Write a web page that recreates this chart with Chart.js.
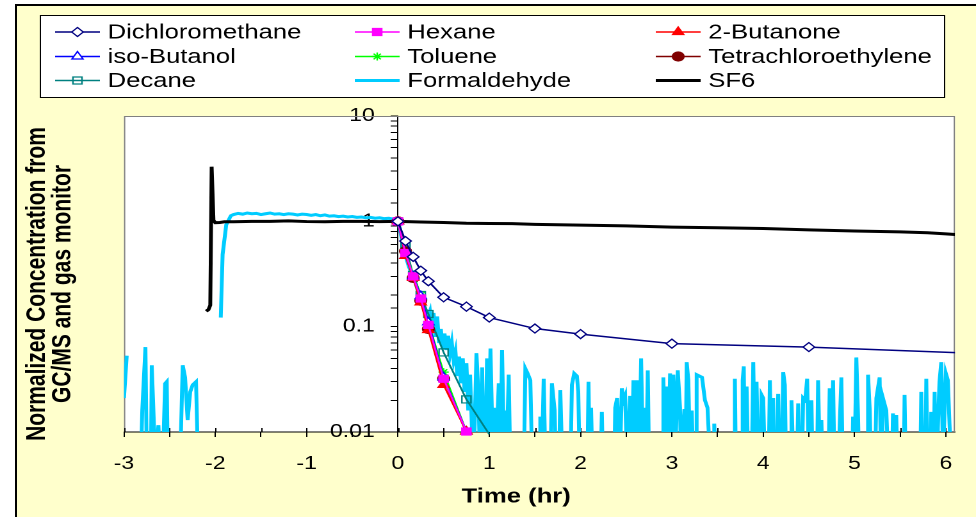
<!DOCTYPE html>
<html>
<head>
<meta charset="utf-8">
<script src="https://cdn.jsdelivr.net/npm/chart.js@4.4.1/dist/chart.umd.min.js"></script>
<style>
  html, body { margin: 0; padding: 0; background: #fff; overflow: hidden; }
  body { width: 976px; height: 517px; position: relative; }
  #frame { position: absolute; left: 15px; top: 4px; width: 1200px; height: 800px;
           border-left: 2px solid #000; border-top: 2px solid #000; background: #FFFFCC; }
  /* the original chart was stretched sideways; draw it narrow and stretch it the same way */
  #wrap { position: absolute; left: 0; top: 0; width: 762px; height: 517px;
          transform: scaleX(1.2808); transform-origin: 0 0; }
</style>
</head>
<body>
<div id="frame"></div>
<div id="wrap"><canvas id="myChart"></canvas></div>
<script>
// GC/MS sample times (hr) and normalized concentrations
const gcTime = [0, 0.083, 0.167, 0.25, 0.333, 0.5, 0.75, 1.0, 1.5, 2, 3, 4.5, 7.5];
const dichloromethane = [1.0, 0.65, 0.46, 0.34, 0.27, 0.19, 0.155, 0.122, 0.096, 0.085, 0.069, 0.064, 0.051];
const hexane = [1.0, 0.50, 0.30, 0.185, 0.104, 0.032, 0.0101];
const butanone = [1.0, 0.47, 0.29, 0.17, 0.093, 0.028, 0.0101];
const isoButanol = [1.0, 0.47, 0.30, 0.195, 0.11, 0.033, 0.0101];
const toluene = [1.0, 0.50, 0.31, 0.20, 0.11, 0.037, 0.0101];
const tetrachloroethylene = [1.0, 0.52, 0.29, 0.176, 0.095, 0.032, 0.0098];
const decane = [1.0, 0.58, 0.31, 0.20, 0.132, 0.057, 0.0204, 0.0095];

// gas monitor readings [time hr, normalized conc]; null = no reading
const formaldehyde = [
  [-3.00, 0.021], [-2.97, 0.053], [-2.95, null],
  [-2.815, 0.005], [-2.80, 0.016], [-2.765, 0.064], [-2.75, 0.005],
  [-2.705, 0.005], [-2.696, 0.043], [-2.656, 0.005], [-2.623, 0.0116], [-2.605, 0.005],
  [-2.575, 0.005], [-2.55, 0.0288], [-2.532, 0.030], [-2.52, 0.005],
  [-2.385, 0.005], [-2.357, 0.043], [-2.331, 0.033], [-2.303, 0.013], [-2.275, 0.024],
  [-2.248, 0.028], [-2.211, 0.030], [-2.189, 0.005], [-2.17, null],
  [-1.94, 0.122], [-1.92, 0.485], [-1.88, 0.93], [-1.83, 1.13], [-1.80, 1.16], [-1.75, 1.19],
  [-1.70, 1.17], [-1.65, 1.20], [-1.60, 1.18], [-1.55, 1.19], [-1.50, 1.16], [-1.45, 1.18],
  [-1.40, 1.20], [-1.35, 1.17], [-1.30, 1.18], [-1.25, 1.16], [-1.20, 1.18], [-1.15, 1.17],
  [-1.10, 1.15], [-1.05, 1.17], [-1.00, 1.16], [-0.95, 1.14], [-0.90, 1.16], [-0.85, 1.13],
  [-0.80, 1.15], [-0.75, 1.12], [-0.70, 1.13], [-0.65, 1.11], [-0.60, 1.12], [-0.55, 1.10],
  [-0.50, 1.11], [-0.45, 1.09], [-0.40, 1.10], [-0.35, 1.08], [-0.30, 1.09], [-0.25, 1.07],
  [-0.20, 1.08], [-0.15, 1.06], [-0.10, 1.07], [-0.05, 1.05],
  [0.00, 1.0], [0.02, 0.86], [0.065, 0.53], [0.12, 0.37], [0.175, 0.29], [0.248, 0.18],
  [0.30, 0.14], [0.33, 0.125], [0.35, 0.14], [0.37, 0.095], [0.39, 0.135], [0.41, 0.08],
  [0.43, 0.125], [0.45, 0.07], [0.47, 0.095], [0.49, 0.062], [0.51, 0.086], [0.53, 0.06],
  [0.55, 0.082], [0.57, 0.055], [0.59, 0.07], [0.61, 0.048], [0.63, 0.058], [0.65, 0.034],
  [0.67, 0.052], [0.69, 0.029], [0.71, 0.05], [0.73, 0.024], [0.75, 0.045], [0.77, 0.016],
  [0.79, 0.035], [0.81, 0.011], [0.83, 0.005], [0.86, 0.056], [0.88, 0.024], [0.90, 0.005],
  [0.922, 0.041], [0.94, 0.005], [0.96, 0.005], [0.975, 0.05], [0.99, 0.005], [1.013, 0.062],
  [1.035, 0.009], [1.05, 0.017], [1.07, 0.005], [1.104, 0.029], [1.12, 0.005], [1.14, 0.060],
  [1.16, 0.008], [1.177, 0.016], [1.19, 0.006], [1.213, 0.035], [1.23, 0.005],
  [1.38, 0.005], [1.395, 0.040], [1.42, 0.036], [1.45, 0.031], [1.47, 0.005],
  [1.55, 0.005], [1.559, 0.014], [1.575, 0.005], [1.596, 0.032], [1.615, 0.005],
  [1.67, 0.005], [1.686, 0.029], [1.716, 0.016], [1.73, 0.005], [1.765, 0.005], [1.778, 0.025], [1.80, 0.005],
  [1.89, 0.005], [1.905, 0.028], [1.93, 0.036], [1.96, 0.034], [1.975, 0.024], [1.99, 0.005],
  [2.075, 0.005], [2.087, 0.030], [2.10, 0.005], [2.115, 0.017], [2.13, 0.005],
  [2.22, 0.005], [2.233, 0.0155], [2.245, 0.005],
  [2.37, 0.005], [2.379, 0.017], [2.40, 0.021], [2.43, 0.005], [2.452, 0.026], [2.47, 0.020],
  [2.488, 0.022], [2.51, 0.005], [2.543, 0.022], [2.56, 0.005], [2.579, 0.031], [2.60, 0.005],
  [2.616, 0.031], [2.64, 0.005], [2.663, 0.050], [2.685, 0.005], [2.707, 0.017], [2.72, 0.005],
  [2.736, 0.0385], [2.75, 0.005],
  [2.90, 0.005], [2.907, 0.033], [2.925, 0.005], [2.943, 0.027], [2.96, 0.005], [2.98, 0.036],
  [3.00, 0.005], [3.016, 0.035], [3.04, 0.007], [3.064, 0.0385], [3.089, 0.017], [3.10, 0.005],
  [3.137, 0.0165], [3.15, 0.005], [3.162, 0.046], [3.18, 0.031], [3.20, 0.005], [3.217, 0.016],
  [3.235, 0.005], [3.265, 0.005], [3.271, 0.035], [3.33, 0.033], [3.362, 0.020], [3.39, 0.017],
  [3.42, 0.005], [3.455, 0.005], [3.464, 0.012], [3.48, 0.005],
  [3.68, 0.005], [3.69, 0.032], [3.70, 0.005], [3.765, 0.005], [3.775, 0.031], [3.787, 0.042],
  [3.80, 0.005], [3.818, 0.027], [3.835, 0.005], [3.875, 0.005], [3.891, 0.046], [3.91, 0.005],
  [3.927, 0.030], [3.945, 0.005], [3.97, 0.005], [3.982, 0.0225], [4.00, 0.021], [4.018, 0.005],
  [4.06, 0.005], [4.073, 0.031], [4.09, 0.005], [4.109, 0.021], [4.12, 0.005], [4.15, 0.005],
  [4.164, 0.023], [4.18, 0.005], [4.205, 0.005], [4.219, 0.037], [4.237, 0.028], [4.25, 0.005],
  [4.30, 0.005], [4.31, 0.020], [4.33, 0.005], [4.37, 0.005], [4.383, 0.0187], [4.40, 0.005],
  [4.425, 0.005], [4.437, 0.021], [4.46, 0.020], [4.481, 0.032], [4.50, 0.005], [4.515, 0.005],
  [4.528, 0.020], [4.54, 0.005],
  [4.59, 0.005], [4.601, 0.031], [4.62, 0.005], [4.637, 0.013], [4.65, 0.005], [4.715, 0.005],
  [4.728, 0.026], [4.745, 0.005], [4.765, 0.031], [4.78, 0.005], [4.825, 0.005], [4.838, 0.0116],
  [4.856, 0.033], [4.87, 0.005],
  [4.975, 0.005], [4.984, 0.014], [5.00, 0.005], [5.02, 0.051], [5.038, 0.015], [5.05, 0.005],
  [5.14, 0.005], [5.148, 0.035], [5.166, 0.0165], [5.18, 0.005], [5.225, 0.005], [5.239, 0.021],
  [5.275, 0.033], [5.29, 0.005], [5.30, 0.005], [5.311, 0.021], [5.348, 0.016], [5.37, 0.005],
  [5.41, 0.005], [5.421, 0.015], [5.44, 0.005], [5.45, 0.005], [5.457, 0.0145], [5.47, 0.005],
  [5.54, 0.005], [5.548, 0.0225], [5.56, 0.005], [5.72, 0.005], [5.731, 0.024], [5.745, 0.005],
  [5.775, 0.005], [5.786, 0.032], [5.80, 0.005], [5.83, 0.005], [5.84, 0.0155], [5.85, 0.005],
  [5.865, 0.005], [5.877, 0.024], [5.89, 0.005], [5.905, 0.005], [5.913, 0.011], [5.93, 0.030],
  [5.95, 0.046], [5.97, 0.005], [5.986, 0.016], [6.00, 0.036], [6.022, 0.031], [6.04, 0.012],
  [6.06, 0.005]
];

const sf6 = [
  [-2.10, 0.14], [-2.075, 0.145], [-2.055, 0.16], [-2.04, 3.3], [-2.02, 1.02], [-2.00, 0.97],
  [-1.95, 0.975], [-1.90, 0.99], [-1.80, 0.99], [-1.60, 1.0], [-1.40, 1.0], [-1.20, 1.01],
  [-1.00, 0.995], [-0.80, 0.99], [-0.60, 1.0], [-0.40, 1.0], [-0.20, 0.995], [0.00, 1.0],
  [0.25, 0.985], [0.50, 0.975], [0.75, 0.96], [1.00, 0.955], [1.25, 0.95], [1.50, 0.935],
  [2.00, 0.92], [2.50, 0.905], [3.00, 0.88], [3.50, 0.87], [4.00, 0.855], [4.50, 0.83],
  [5.00, 0.81], [5.50, 0.795], [5.80, 0.78], [6.00, 0.76], [6.10, 0.75]
];

const xTicks = [-3, -2, -1, 0, 1, 2, 3, 4, 5, 6];
const yTicks = [0.01, 0.1, 1, 10];

const FONT = "'Liberation Sans', Arial, sans-serif";

function gcPoints(values) {
  return values.map((v, i) => ({ x: gcTime[i], y: v }));
}
function pairPoints(rows) {
  return rows.map(r => ({ x: r[0], y: r[1] }));
}
// markers of points below the axis floor are not shown, like the original
function hideLow(r) {
  return ctx => (ctx.raw && ctx.raw.y < 0.01) ? 0 : r;
}
const gcClip = { left: 6, top: 6, right: 0, bottom: 6 };

function gcSeries(label, values, color, style, fill, radius, order) {
  return {
    label: label,
    data: gcPoints(values),
    borderColor: color,
    backgroundColor: fill,
    borderWidth: 1.5,
    pointStyle: style,
    pointRadius: hideLow(radius),
    pointBorderColor: color,
    pointBackgroundColor: fill,
    pointBorderWidth: 1.2,
    clip: gcClip,
    order: order
  };
}

const datasets = [
  gcSeries('Dichloromethane', dichloromethane, '#000080', 'rectRot', '#ffffff', 4.5, 0),
  gcSeries('Hexane', hexane, '#FF00FF', 'rect', '#FF00FF', 5, 1),
  gcSeries('2-Butanone', butanone, '#FF0000', 'triangle', '#FF0000', 5, 2),
  gcSeries('iso-Butanol', isoButanol, '#0000FF', 'triangle', '#ffffff', 5, 3),
  gcSeries('Toluene', toluene, '#00FF00', 'star', '#00FF00', 4, 4),
  gcSeries('Tetrachloroethylene', tetrachloroethylene, '#800000', 'circle', '#800000', 4.5, 5),
  gcSeries('Decane', decane, '#008080', 'rect', 'rgba(0,0,0,0)', 5, 6),
  {
    label: 'Formaldehyde',
    data: pairPoints(formaldehyde),
    borderColor: '#00CCFF',
    backgroundColor: '#00CCFF',
    borderWidth: 3,
    pointRadius: 0,
    clip: 0,
    order: 10
  },
  {
    label: 'SF6',
    data: pairPoints(sf6),
    borderColor: '#000000',
    backgroundColor: '#000000',
    borderWidth: 3,
    pointRadius: 0,
    clip: 0,
    order: 9
  }
];

// legend grid, plot box and axis titles
const legendCols = [43, 277, 512];
const legendRows = [32, 56.5, 80.5];

const decor = {
  id: 'decor',
  beforeDraw(chart) {
    const { ctx, chartArea: a } = chart;
    ctx.save();
    ctx.fillStyle = '#ffffff';
    ctx.fillRect(a.left, a.top, a.right - a.left, a.bottom - a.top);
    ctx.fillRect(31, 15, 706, 82);
    ctx.strokeStyle = '#000000';
    ctx.lineWidth = 1;
    ctx.strokeRect(31.5, 15.5, 706, 82);
    ctx.restore();
  },
  beforeDatasetsDraw(chart) {
    const { ctx, chartArea: a } = chart;
    ctx.save();
    ctx.strokeStyle = '#808080';
    ctx.lineWidth = 1;
    ctx.beginPath();
    ctx.moveTo(a.left + 0.5, a.bottom);
    ctx.lineTo(a.left + 0.5, a.top + 0.5);
    ctx.lineTo(a.right - 0.5, a.top + 0.5);
    ctx.lineTo(a.right - 0.5, a.bottom);
    ctx.stroke();
    // the time ticks cross the axis: add the inner half (not under the 0.01 label)
    const xs = chart.scales.x;
    ctx.strokeStyle = '#000000';
    ctx.beginPath();
    xs.ticks.forEach(t => {
      if (t.value > -1 && t.value < 0) return;
      const px = Math.round(xs.getPixelForValue(t.value)) + 0.5;
      ctx.moveTo(px, a.bottom - 4);
      ctx.lineTo(px, a.bottom);
    });
    ctx.stroke();
    ctx.restore();
  },
  afterDraw(chart) {
    const ctx = chart.ctx;
    ctx.save();
    chart.data.datasets.forEach((ds, i) => {
      const x0 = legendCols[i % 3];
      const y = legendRows[Math.floor(i / 3)];
      ctx.strokeStyle = ds.borderColor;
      ctx.lineWidth = ds.borderWidth;
      ctx.beginPath();
      ctx.moveTo(x0, y);
      ctx.lineTo(x0 + 35, y);
      ctx.stroke();
      if (ds.pointStyle && Chart.helpers && Chart.helpers.drawPoint) {
        ctx.fillStyle = ds.pointBackgroundColor;
        ctx.strokeStyle = ds.pointBorderColor;
        ctx.lineWidth = ds.pointBorderWidth;
        const r = ds.pointRadius({ raw: { y: 1 } });
        Chart.helpers.drawPoint(ctx, { pointStyle: ds.pointStyle, rotation: 0, radius: r, borderWidth: ds.pointBorderWidth }, x0 + 17.5, y);
      }
      ctx.fillStyle = '#000000';
      ctx.font = '20px ' + FONT;
      ctx.textAlign = 'left';
      ctx.textBaseline = 'middle';
      ctx.fillText(ds.label, x0 + 41, y + 1);
    });

    ctx.fillStyle = '#000000';
    ctx.font = 'bold 20px ' + FONT;
    ctx.textAlign = 'center';
    ctx.textBaseline = 'middle';
    ctx.fillText('Time (hr)', 403, 497);

    ctx.font = 'bold 21px ' + FONT;
    ctx.translate(29, 284);
    ctx.rotate(-Math.PI / 2);
    ctx.fillText('Normalized Concentration from', 0, 0);
    ctx.fillText('GC/MS and gas monitor', 0, 20);
    ctx.restore();
  }
};

function isDecade(v) {
  return yTicks.some(t => Math.abs(t - v) < t * 1e-6);
}

new Chart('myChart', {
  type: 'line',
  data: { datasets: datasets },
  options: {
    responsive: true,
    maintainAspectRatio: false,
    devicePixelRatio: 2,
    animation: false,
    events: [],
    layout: { padding: { left: 96.8, right: 16.4, top: 116, bottom: 45 } },
    elements: { line: { tension: 0 } },
    plugins: {
      legend: { display: false },
      tooltip: { enabled: false }
    },
    scales: {
      x: {
        type: 'linear',
        min: -3,
        max: 6.1,
        afterFit: s => { s.height = 40; },
        border: { color: '#000000', width: 1 },
        grid: { drawOnChartArea: false, drawTicks: true, tickLength: 5, color: '#000000' },
        ticks: {
          stepSize: 0.5,
          autoSkip: false,
          includeBounds: false,
          maxRotation: 0,
          padding: 16,
          color: '#000000',
          font: { family: FONT, size: 18 },
          callback: v => xTicks.includes(v) ? String(v) : ''
        }
      },
      y: {
        type: 'logarithmic',
        min: 0.01,
        max: 10,
        position: { x: 0 },
        border: { color: '#000000', width: 1 },
        grid: { drawOnChartArea: false, drawTicks: true, tickLength: 5, color: '#000000' },
        ticks: {
          autoSkip: false,
          color: '#000000',
          font: { family: FONT, size: 18 },
          // labels sit right against an axis placed inside the plot; en spaces give the gap
          callback: v => isDecade(v) ? String(v) + '\u2002\u2002' : ''
        }
      }
    }
  },
  plugins: [decor]
});
</script>
</body>
</html>
